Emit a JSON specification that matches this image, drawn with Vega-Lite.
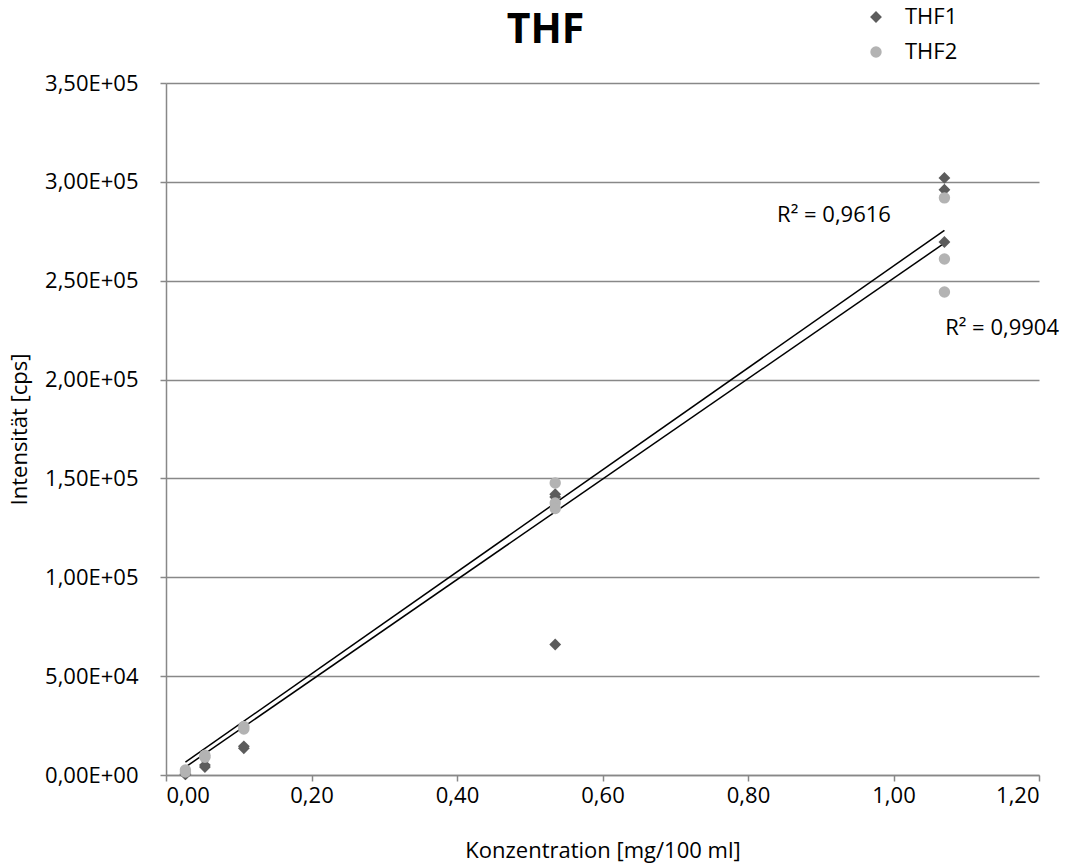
{
  "$schema": "https://vega.github.io/schema/vega-lite/v6.json",
  "width": 873,
  "height": 692,
  "autosize": {"type": "none"},
  "padding": {"left": 166, "top": 83, "right": 29, "bottom": 91},
  "background": "white",
  "config": {
    "font": "Open Sans",
    "view": {"stroke": null},
    "axis": {"labelFont": "Open Sans", "titleFont": "Open Sans", "labelColor": "#000", "titleColor": "#000", "titleFontWeight": "normal"}
  },
  "title": {"text": "THF", "font": "Open Sans", "fontSize": 41, "fontWeight": "bold", "color": "#000", "anchor": "middle", "frame": "group", "offset": 22, "dx": -57, "dy": 68},
  "datasets": {
    "points": [
      {"x": 0.0267, "y": 500, "series": "THF1"},
      {"x": 0.0267, "y": 300, "series": "THF1"},
      {"x": 0.0535, "y": 4000, "series": "THF1"},
      {"x": 0.0535, "y": 5000, "series": "THF1"},
      {"x": 0.107, "y": 13500, "series": "THF1"},
      {"x": 0.107, "y": 14500, "series": "THF1"},
      {"x": 0.535, "y": 140600, "series": "THF1"},
      {"x": 0.535, "y": 142000, "series": "THF1"},
      {"x": 0.535, "y": 66000, "series": "THF1"},
      {"x": 1.07, "y": 302000, "series": "THF1"},
      {"x": 1.07, "y": 296000, "series": "THF1"},
      {"x": 1.07, "y": 269600, "series": "THF1"},
      {"x": 0.0267, "y": 1500, "series": "THF2"},
      {"x": 0.0267, "y": 2500, "series": "THF2"},
      {"x": 0.0535, "y": 9000, "series": "THF2"},
      {"x": 0.0535, "y": 10000, "series": "THF2"},
      {"x": 0.107, "y": 23300, "series": "THF2"},
      {"x": 0.107, "y": 24500, "series": "THF2"},
      {"x": 0.535, "y": 147700, "series": "THF2"},
      {"x": 0.535, "y": 137600, "series": "THF2"},
      {"x": 0.535, "y": 134800, "series": "THF2"},
      {"x": 1.07, "y": 291900, "series": "THF2"},
      {"x": 1.07, "y": 261000, "series": "THF2"},
      {"x": 1.07, "y": 244300, "series": "THF2"}
    ],
    "trend": [
      {"x": 0.0267, "y": 6500, "line": "THF1"},
      {"x": 1.07, "y": 275500, "line": "THF1"},
      {"x": 0.0267, "y": 4000, "line": "THF2"},
      {"x": 1.07, "y": 269000, "line": "THF2"}
    ],
    "labels": [
      {"x": 0.84, "y": 283300, "text": "R² = 0,9616"},
      {"x": 1.071, "y": 226100, "text": "R² = 0,9904"}
    ]
  },
  "layer": [
    {
      "data": {"name": "trend"},
      "mark": {"type": "line", "color": "#000", "strokeWidth": 1.5},
      "encoding": {
        "x": {"field": "x", "type": "quantitative"},
        "y": {"field": "y", "type": "quantitative"},
        "detail": {"field": "line"}
      }
    },
    {
      "data": {"name": "points"},
      "mark": {"type": "point", "filled": true, "opacity": 1},
      "encoding": {
        "x": {
          "field": "x", "type": "quantitative",
          "scale": {"domain": [0, 1.2], "nice": false},
          "axis": {
            "title": "Konzentration [mg/100 ml]", "titleFontSize": 22, "titlePadding": 34,
            "values": [0, 0.2, 0.4, 0.6, 0.8, 1.0, 1.2],
            "labelExpr": "replace(format(datum.value, '.2f'), '.', ',')",
            "labelFontSize": 22, "labelPadding": 4, "tickSize": 6, "tickColor": "#888", "domainColor": "#888", "domainWidth": 1.5, "tickWidth": 1.5,
            "grid": false
          }
        },
        "y": {
          "field": "y", "type": "quantitative",
          "scale": {"domain": [0, 350000], "nice": false},
          "axis": {
            "title": "Intensität [cps]", "titleFontSize": 22, "titlePadding": 13,
            "values": [0, 50000, 100000, 150000, 200000, 250000, 300000, 350000],
            "labelExpr": "replace(replace(format(datum.value, '.2e'), '.', ','), 'e+', 'E+0')",
            "labelFontSize": 22, "labelPadding": 22, "tickSize": 6, "tickColor": "#888", "domainColor": "#888", "domainWidth": 1.5, "tickWidth": 1.5,
            "grid": true, "gridColor": "#888", "gridWidth": 1.5
          }
        },
        "color": {
          "field": "series", "type": "nominal",
          "scale": {"domain": ["THF1", "THF2"], "range": ["#5c5c5c", "#b3b3b3"]},
          "legend": {"title": null, "orient": "none", "legendX": 699, "legendY": -77, "labelFontSize": 22, "labelFont": "Open Sans", "labelColor": "#000", "rowPadding": 13, "labelOffset": 18, "symbolSize": 110}
        },
        "shape": {
          "field": "series", "type": "nominal",
          "scale": {"domain": ["THF1", "THF2"], "range": ["diamond", "circle"]},
          "legend": {"title": null, "orient": "none", "legendX": 699, "legendY": -77, "labelFontSize": 22, "labelFont": "Open Sans", "labelColor": "#000", "rowPadding": 13, "labelOffset": 18, "symbolSize": 110}
        },
        "size": {"field": "series", "type": "nominal", "scale": {"domain": ["THF1", "THF2"], "range": [140, 130]}, "legend": null}
      }
    },
    {
      "data": {"name": "labels"},
      "mark": {"type": "text", "align": "left", "baseline": "middle", "fontSize": 22, "font": "Open Sans", "color": "#000"},
      "encoding": {
        "x": {"field": "x", "type": "quantitative"},
        "y": {"field": "y", "type": "quantitative"},
        "text": {"field": "text"}
      }
    }
  ]
}
